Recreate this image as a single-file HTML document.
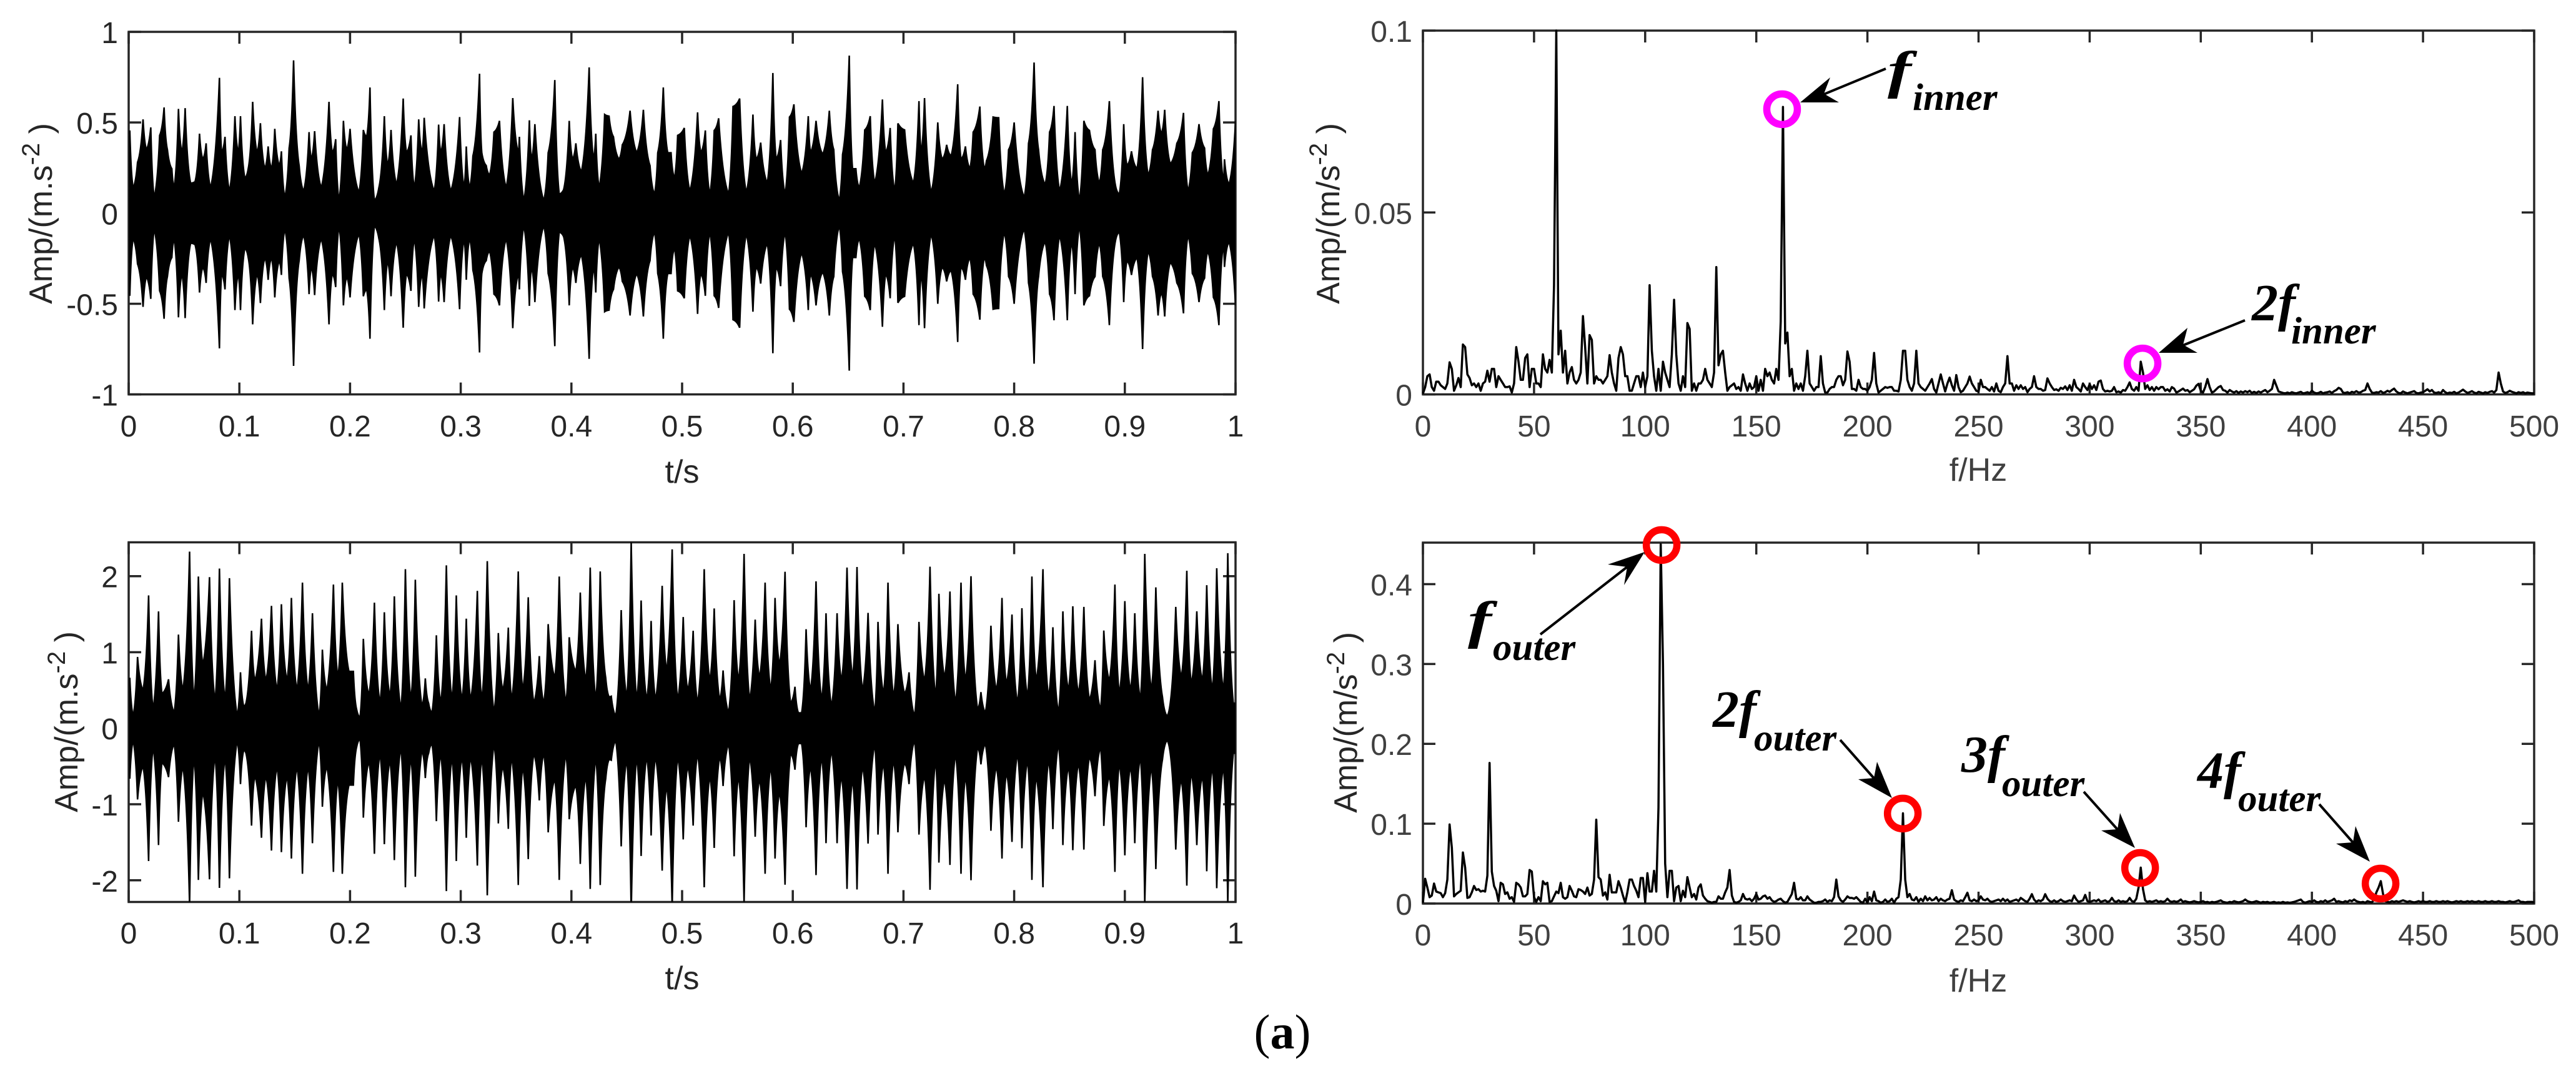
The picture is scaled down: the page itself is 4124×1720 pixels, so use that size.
<!DOCTYPE html>
<html>
<head>
<meta charset="utf-8">
<title>Vibration signals and envelope spectra</title>
<style>
html,body{margin:0;padding:0;background:#fff;}
svg{display:block;}
text{font-family:"Liberation Sans",sans-serif;}
.tick{font-size:48px;}
.axl{font-size:52px;}
.dark{fill:#262626;}
.grey{fill:#404040;}
.ann{font-family:"Liberation Serif",serif;font-style:italic;font-weight:bold;fill:#000;}
.big{font-size:84px;}
.sub{font-size:61px;}
</style>
</head>
<body>
<svg id="fig" xmlns="http://www.w3.org/2000/svg" width="4124" height="1720" viewBox="0 0 4124 1720">
  <rect x="0" y="0" width="4124" height="1720" fill="#fff"/>
  <g id="plots"></g>

  <text class="axl dark" x="1092" y="773" text-anchor="middle">t/s</text>
  <text class="axl dark" x="1092" y="1584" text-anchor="middle">t/s</text>
  <text class="axl grey" x="3167" y="770" text-anchor="middle">f/Hz</text>
  <text class="axl grey" x="3167" y="1588" text-anchor="middle">f/Hz</text>

  <text class="axl dark" transform="translate(83,342) rotate(-90)" text-anchor="middle">Amp/(m.s<tspan dy="-20" font-size="40">-2</tspan><tspan dy="20"> )</tspan></text>
  <text class="axl dark" transform="translate(124,1156) rotate(-90)" text-anchor="middle">Amp/(m.s<tspan dy="-20" font-size="40">-2</tspan><tspan dy="20"> )</tspan></text>
  <text class="axl dark" transform="translate(2144,342) rotate(-90)" text-anchor="middle">Amp/(m/s<tspan dy="-20" font-size="40">-2</tspan><tspan dy="20"> )</tspan></text>
  <text class="axl dark" transform="translate(2172,1157) rotate(-90)" text-anchor="middle">Amp/(m/s<tspan dy="-20" font-size="40">-2</tspan><tspan dy="20"> )</tspan></text>

  <g fill="#000" stroke="none">
    <g><line x1="3019" y1="110" x2="2915" y2="153" stroke="#000" stroke-width="4"/><polygon points="2882,164 2930,124 2920,150 2944,164"/></g>
    <g><line x1="3594" y1="513" x2="3490" y2="555" stroke="#000" stroke-width="4"/><polygon points="3456,565 3502,525 3495,552 3518,565"/></g>
    <g><line x1="2466" y1="1016" x2="2610" y2="904" stroke="#000" stroke-width="4"/><polygon points="2633,884 2574,904 2605,908 2600,937"/></g>
    <g><line x1="2946" y1="1185" x2="3005" y2="1252" stroke="#000" stroke-width="4"/><polygon points="3029,1278 3005,1220 3000,1246 2975,1248"/></g>
    <g><line x1="3336" y1="1268" x2="3395" y2="1334" stroke="#000" stroke-width="4"/><polygon points="3418,1358 3394,1302 3390,1328 3364,1330"/></g>
    <g><line x1="3713" y1="1288" x2="3772" y2="1355" stroke="#000" stroke-width="4"/><polygon points="3794,1380 3771,1323 3767,1349 3740,1351"/></g>
  </g>

  <g><text class="ann big" x="3022" y="140" textLength="38" lengthAdjust="spacingAndGlyphs">f</text><text class="ann sub" x="3062" y="176">inner</text></g>
  <g><text class="ann big" x="3605" y="513">2f</text><text class="ann sub" x="3668" y="550">inner</text></g>
  <g><text class="ann big" x="2350" y="1021" textLength="38" lengthAdjust="spacingAndGlyphs">f</text><text class="ann sub" x="2390" y="1057">outer</text></g>
  <g><text class="ann big" x="2742" y="1164">2f</text><text class="ann sub" x="2808" y="1202">outer</text></g>
  <g><text class="ann big" x="3140" y="1236">3f</text><text class="ann sub" x="3205" y="1275">outer</text></g>
  <g><text class="ann big" x="3518" y="1262">4f</text><text class="ann sub" x="3583" y="1299">outer</text></g>

  <text x="2053" y="1679" text-anchor="middle" style="font-family:'Liberation Serif',serif;font-size:78px;fill:#000;">(<tspan font-weight="bold">a</tspan>)</text>
</svg>
<script>
// ---- tick labels ----
const timeTicks = [0,0.1,0.2,0.3,0.4,0.5,0.6,0.7,0.8,0.9,1];
const freqTicks = [0,50,100,150,200,250,300,350,400,450,500];
const innerTimeYTicks = [-1,-0.5,0,0.5,1];
const outerTimeYTicks = [-2,-1,0,1,2];
const innerFreqYTicks = [0,0.05,0.1];
const outerFreqYTicks = [0,0.1,0.2,0.3,0.4];

// ---- inner race time signal: envelope samples (time in ms, amplitude in 1e-3 m/s^2) ----
const innerTimeMs = [1,4,8,13,16,20,23,28,32,35,39,41,45,48,51,56,60,64,67,70,74,82,84,87,91,96,99,101,105,108,112,116,119,123,126,129,132,136,138,141,145,149,154,158,163,165,168,174,181,184,187,190,194,197,200,208,212,215,218,222,226,231,234,237,242,248,251,255,258,262,265,267,276,280,282,285,291,299,303,305,308,311,317,319,323,326,330,335,341,347,352,353,357,362,364,367,375,379,385,389,393,398,401,404,409,416,420,422,425,430,434,438,443,446,453,459,465,471,475,478,483,487,490,493,496,502,507,514,517,521,525,529,533,542,546,552,558,564,567,571,577,582,585,589,593,597,601,608,614,616,621,627,633,637,642,645,651,654,657,660,665,670,674,681,684,688,692,695,701,709,714,716,719,725,731,735,739,743,749,752,756,760,763,769,773,775,781,786,791,795,800,809,813,818,822,828,832,836,841,848,852,855,859,863,868,873,877,880,886,892,895,899,902,906,911,916,921,925,930,933,936,941,947,953,957,961,967,972,975,980,985,989,990,994,1000];
const innerTimeAmp = [456,139,280,517,350,473,86,429,583,350,245,139,575,333,579,165,174,438,297,385,139,746,333,421,121,535,333,535,192,245,614,333,496,245,368,245,465,262,341,86,359,843,262,121,447,297,452,139,614,333,408,69,509,350,465,113,459,421,693,69,139,535,262,459,157,632,333,429,139,517,333,526,121,488,333,491,121,530,139,368,139,315,769,333,262,209,447,509,139,635,333,421,69,512,297,491,69,333,734,104,130,509,297,385,227,804,297,438,139,544,535,421,297,377,565,333,570,262,104,333,693,333,333,192,429,470,121,556,333,456,104,456,523,104,588,632,113,544,297,389,165,773,297,403,104,530,600,218,535,333,509,324,565,350,69,324,869,245,245,139,459,535,165,627,333,470,121,495,459,165,618,333,635,113,500,297,377,315,711,297,368,245,447,588,245,289,530,526,104,350,500,86,385,831,350,157,447,591,121,591,157,447,69,509,456,350,165,350,618,139,104,491,262,341,245,750,209,350,565,438,570,271,385,553,121,333,491,359,209,465,618,174,297,157,509];

// ---- outer race time signal: envelope samples (time in ms, amplitude in 1e-3 m/s^2) ----
const outerTimeMs = [1,4,8,13,18,22,27,30,36,41,45,49,55,59,63,67,73,78,82,87,91,98,101,104,106,111,114,120,124,129,134,138,143,147,152,157,162,166,172,175,179,185,189,193,199,203,206,209,212,217,222,227,231,236,240,246,250,255,259,265,268,271,274,278,282,287,292,296,301,305,309,315,319,324,330,334,338,343,346,352,356,361,366,371,375,379,385,389,395,398,404,408,413,417,422,426,431,434,436,440,445,450,454,459,463,468,472,476,482,486,491,496,501,505,510,514,520,525,529,534,537,542,547,551,556,561,566,570,575,580,584,588,593,598,602,605,608,612,616,621,626,630,635,640,644,649,654,658,663,668,674,677,682,686,691,695,701,705,710,714,719,724,729,732,737,742,747,752,756,761,767,770,774,779,784,789,793,798,803,807,812,816,820,826,831,835,840,844,849,853,858,863,868,873,878,881,886,891,895,900,905,909,914,918,924,928,934,938,940,946,951,956,960,965,970,974,979,983,989,993,998,1000];
const outerTimeAmp = [664,160,937,496,1747,244,1537,454,643,202,1231,496,2323,370,1995,832,1987,349,2100,370,1974,160,735,286,328,1281,622,1441,622,1609,496,1630,622,1714,496,1915,496,1512,160,1033,496,1890,664,1915,748,748,244,139,1176,433,1651,328,1525,412,1735,244,2092,370,1953,286,655,328,202,1222,328,2142,370,1747,370,1441,370,1806,370,2197,202,1252,496,1323,370,2062,496,1722,328,949,328,1369,664,1995,328,1197,748,1785,622,2113,370,2062,664,412,420,160,1554,400,2449,370,1680,370,1411,370,1873,748,2352,370,1462,496,1281,328,2092,622,1575,370,760,202,1684,622,2293,370,1428,664,1915,496,1714,832,2058,328,546,202,202,1302,496,1932,370,1512,286,1512,622,2113,664,2121,496,1516,202,1399,454,1915,412,1369,454,735,160,1399,622,2125,412,1768,664,1798,328,1915,622,1999,244,475,202,1348,496,1714,580,1495,328,1579,412,1995,622,2092,412,1327,202,1537,496,1604,454,1596,370,895,244,1285,622,1890,454,1672,496,1512,370,2293,496,1852,412,160,235,1596,664,2071,580,1537,622,1882,496,2104,496,2302,328,328];

// ---- inner race spectrum: amplitude (1e-3 m/s^2) per 1 Hz bin, 0..500 Hz ----
const innerSpectrum = [
.2,2,5,5.5,2,1,3.5,3.5,2.5,2,
1.5,3,8.8,7,1,2.5,4.5,2,13.7,13,
5.5,4.5,2.5,3,2,3,1,3,3.5,6.5,
3.5,7,7,2,5,4,3,2,2,2.2,
.5,3,13,9,4,4,10,11,2,7,
7,3,3,2,11,7,6,9.5,6,30,
104,11,17.5,6,12,3,6,7.5,4,3,
4,6,21.5,13,3,16.3,15,3,5,4,
4,3,4,5,10.8,6,3,1,10,13,
11,5,5,1,1,3,5,5,2,6,
2,5,30,12,5,1,7,1,9,6,
4,2,11,26,11,3,1,5,2,19.6,
18,1,3,1,3,3,4,7,4,3,
2,6,35,8,11,12,6,1,2,2.5,
3,1.5,2,1,5.5,3,1,3,1.5,2,
5,1,4,1,7,5,6,4,3,7,
4,20,79,14,17,5,7,1,3,1.5,
3,1,5,12,3,2,1,2,2,10.5,
3,.5,.5,1.5,2,2,4,5,5,2.5,
4,11.8,9,1.5,1.5,1,4,2,1.5,1.5,
1,2,4,11.4,3,.5,1,1.5,2,1.8,
2,2,1,1,.8,4,12,12,4,2,
1,3,12,3,2,1.5,1,2,3,4.2,
1.5,.5,3,5.5,3,.8,3,4.6,2.5,1,
5.3,2,.6,1,2,3,4.9,3,2,1,
.8,4,2,2,1.5,1,2,.8,3,1,
.6,2,3,10.5,3,3,1,2.5,1.5,2.5,
1.5,2,.6,1.5,2,5,2,1.5,1.5,1,
1.2,4.4,3,2,1.2,1.4,1,1.8,1.5,2.2,
1.2,2.5,1,4,2,1.5,.8,3,2,1.2,
2.8,1.5,2.5,1.2,3.5,3.8,1.5,.8,1,.8,
1,2,.6,.8,.5,1.2,1,2,3.3,1.5,
1,2,1,9,6,1.5,2.5,1.2,2,1,
2,1.4,2,2,1,1.4,.8,2,1.6,.5,
.8,1.2,1.6,1,1.2,.6,1,1.4,2.4,2.9,
1,.5,2,4.2,2,.5,.8,1.4,2,2.3,
1.2,1,.5,1.2,.8,.5,.9,.4,.8,.5,
.9,.6,1,.4,.7,.4,.8,.5,.9,1.2,
.6,1,1.5,4,2.4,.8,.6,.4,.3,.5,
.3,.6,.4,.3,.5,.7,.3,.4,.6,.3,
1,.5,.3,.4,.7,.3,.5,.6,.8,.4,
.9,1.2,1.8,1.5,.5,.4,.6,.3,.7,.5,
.9,.5,.6,1,1.2,3,1.5,.5,.4,.6,
.5,.9,.4,.6,1,.7,1.2,1.6,.8,.4,
.3,.8,.5,.3,.5,.7,.9,.4,.3,.5,
.6,1,1.4,.8,1.2,.5,.4,.6,.3,1.2,
.6,.3,.5,.4,.7,.3,.5,.9,1.3,.8,
.4,.6,.9,.5,.3,.7,.5,.3,.6,.4,
.7,.9,.5,1.2,6,3,.8,.4,.6,1,
.7,.5,.3,.6,.4,.6,.3,.5,.4,.3,
.3];

// ---- outer race spectrum: amplitude (1e-3 m/s^2) per 1 Hz bin, 0..500 Hz ----
const outerSpectrum = [
1,31,20,8,10,25,15,14,13,8,
13,30,99,70,9,12,14,16,64,45,
7,8,14,22,17,18,15,16,15,35,
176,40,22,16,3,26,24,12,14,6,
8,2,26,24,20,9,9,12,42,40,
8,2,8,3,28,24,26,2,3,9,
15,13,26,8,6,8,22,16,9,8,
18,17,15,12,20,10,12,30,105,33,
30,10,14,5,36,14,14,14,28,20,
10,1,14,30,30,22,16,8,32,32,
2,38,15,15,41,15,120,450,300,50,
8,41,41,3,20,22,3,16,8,33,
20,8,12,5,20,24,10,6,3,2,
1,2,2,9,6,6,14,20,42,10,
2,1,2,4,12,6,5,6,3,6,
12,5,6,9,10,6,8,4,2,3,
5,6,3,1,2,7,12,26,6,5,
8,4,4,9,5,3,1,1,2,2,
3,5,2,4,3,8,30,9,4,2,
5,9,7,7,6,8,5,2,1,6,
1,8,3,15,4,3,1,2,5,2,
3,6,1,6,8,30,113,30,8,12,
5,4,8,2,6,3,9,4,7,4,
5,8,3,6,4,3,5,6,16.7,5,
3,2,4,3,8,13.5,4,3,5,3,
4,9,5,4,6,3,2,3,4,5,
3,6,3,5,2,3,4,5,3,7,
5,3,2,6,11.7,5,2,4,3,5,
11.7,6,3,2,4,2,3,5,3,2,
3,4,3,10,5,2,3,4,10.8,3,
2,3,4,3,5,2,3,4,2,3,
7,3,2,4,2,3,2,3,7,3,
2,6,20,45,18,4,2,3,2,3,
4,2,3,2,3,6,3,2,3,2,
3,5,2,3,2,1.5,2,3,2,1.5,
2,3,1.5,2,1,2,1.5,2,3,4,
2,1.5,1,2,1.5,3,2,1.5,2,3,
5,3,2,1.5,2,3,2,1,2,1.5,
2,1,1.5,2,1,1.5,1,2,1,1.5,
1,1.5,2,3,4,5,2,1,2,3,
2,4,2,1.5,3,2,4,2,3,4,
6,2,3,2,1.5,3,2,4,3,5,
3,2,1.5,2,1,3,2,1.5,5,14,
20,28,12,3,2,1.5,3,2,3,2,
3,4,3,2,3,2,1.5,2,3,2,
3,2,2,3,2,2,3,2,2,3,
2,3,2,1.5,2,3,2,3,2,2,
3,2,3,2,2,3,2,2,3,2,
2,3,2,2,3,2,2,1.5,2,3,
2,2,3,4,2,2,1.5,2,2,2,
1.5];

// ---- fault-frequency markers ----
const innerMarkerFreq = [161.6,323.8];
const innerMarkerAmp = [0.0784,0.0085];
const outerMarkerFreq = [107.4,215.9,322.7,430.9];
const outerMarkerAmp = [0.449,0.1127,0.0446,0.025];

const NS = 'http://www.w3.org/2000/svg';
const plots = document.getElementById('plots');

function scale(d0, d1, p0, p1) {
  return function (v) { return p0 + (v - d0) * (p1 - p0) / (d1 - d0); };
}

function make(tag, parent) {
  const el = document.createElementNS(NS, tag);
  parent.appendChild(el);
  return el;
}

function drawAxes(p) {
  const g = make('g', plots);
  
  
  const clip = make('clipPath', g);
  clip.setAttribute('id', p.name + '-clip');
  const clipRect = make('rect', clip);
  clipRect.setAttribute('x', p.left);
  clipRect.setAttribute('y', p.top);
  clipRect.setAttribute('width', p.right - p.left);
  clipRect.setAttribute('height', p.bottom - p.top);
  const frame = make('rect', g);
  
  
  frame.setAttribute('x', p.left);
  frame.setAttribute('y', p.top);
  frame.setAttribute('width', p.right - p.left);
  frame.setAttribute('height', p.bottom - p.top);
  frame.setAttribute('fill', 'none');
  frame.setAttribute('stroke', '#262626');
  frame.setAttribute('stroke-width', '3.5');
  const sx = p.sx, sy = p.sy;
  p.xTicks.forEach(function (t) {
    const px = sx(t);
    [[p.top, p.top + 19], [p.bottom, p.bottom - 19]].forEach(function (seg) {
      const l = make('line', g);
      
      
      l.setAttribute('x1', px); l.setAttribute('x2', px);
      l.setAttribute('y1', seg[0]); l.setAttribute('y2', seg[1]);
      l.setAttribute('stroke', '#262626');
      l.setAttribute('stroke-width', '3.5');
    });
    const tx = make('text', g);
    
    
    tx.setAttribute('class', 'tick ' + p.tone);
    tx.setAttribute('x', px);
    tx.setAttribute('y', p.xLabelY);
    tx.setAttribute('text-anchor', 'middle');
    tx.textContent = String(t);
  });
  p.yTicks.forEach(function (t) {
    const py = sy(t);
    [[p.left, p.left + 20], [p.right, p.right - 20]].forEach(function (seg) {
      const l = make('line', g);
      
      
      l.setAttribute('y1', py); l.setAttribute('y2', py);
      l.setAttribute('x1', seg[0]); l.setAttribute('x2', seg[1]);
      l.setAttribute('stroke', '#262626');
      l.setAttribute('stroke-width', '3.5');
    });
    const tx = make('text', g);
    
    
    tx.setAttribute('class', 'tick ' + p.tone);
    tx.setAttribute('x', p.left - 17);
    tx.setAttribute('y', py + 18);
    tx.setAttribute('text-anchor', 'end');
    tx.textContent = String(t);
  });
  return g;
}

// Segment between two envelope samples: slightly concave, so spikes narrow toward their tips.
function segment(x0, y0, a0, x1, y1, a1) {
  const rising = a0 < a1;
  const cx = rising ? x0 + 0.62 * (x1 - x0) : x1 - 0.62 * (x1 - x0);
  const cy = rising ? y0 + 0.2 * (y1 - y0) : y1 + 0.2 * (y0 - y1);
  return 'Q' + cx.toFixed(1) + ' ' + cy.toFixed(1) + ' ' + x1.toFixed(1) + ' ' + y1.toFixed(1);
}

function drawEnvelope(g, p, times, amps, name) {
  const n = times.length;
  let d = 'M' + p.sx(times[0] / 1000).toFixed(1) + ' ' + p.sy(amps[0] / 1000).toFixed(1);
  for (let i = 1; i < n; i++) {
    d += segment(p.sx(times[i - 1] / 1000), p.sy(amps[i - 1] / 1000), amps[i - 1],
                 p.sx(times[i] / 1000), p.sy(amps[i] / 1000), amps[i]);
  }
  d += 'L' + p.sx(times[n - 1] / 1000).toFixed(1) + ' ' + p.sy(-amps[n - 1] / 1000).toFixed(1);
  for (let i = n - 2; i >= 0; i--) {
    d += segment(p.sx(times[i + 1] / 1000), p.sy(-amps[i + 1] / 1000), amps[i + 1],
                 p.sx(times[i] / 1000), p.sy(-amps[i] / 1000), amps[i]);
  }
  d += 'Z';
  const shape = make('path', g);
  
  
  shape.setAttribute('d', d);
  shape.setAttribute('clip-path', 'url(#' + p.name + '-clip)');
  shape.setAttribute('fill', '#000');
  shape.setAttribute('stroke', '#000');
  shape.setAttribute('stroke-width', '2.5');
  shape.setAttribute('stroke-linejoin', 'miter');
}

function drawSpectrum(g, p, values, name) {
  const pts = values.map(function (v, i) {
    return p.sx(i).toFixed(1) + ',' + p.sy(Math.min(v / 1000, p.yMax)).toFixed(1);
  });
  const line = make('polyline', g);
  
  
  line.setAttribute('points', pts.join(' '));
  line.setAttribute('fill', 'none');
  line.setAttribute('stroke', '#000');
  line.setAttribute('stroke-width', '3.5');
  line.setAttribute('stroke-linejoin', 'round');
}

function drawMarkers(g, p, freqs, amps, color, name) {
  freqs.forEach(function (f, i) {
    const c = make('circle', g);
    
    
    c.setAttribute('cx', p.sx(f));
    c.setAttribute('cy', p.sy(amps[i]));
    c.setAttribute('r', '24.5');
    c.setAttribute('fill', 'none');
    c.setAttribute('stroke', color);
    c.setAttribute('stroke-width', '11.5');
  });
}

function panel(o) {
  o.sx = scale(o.xMin, o.xMax, o.left, o.right);
  o.sy = scale(o.yMin, o.yMax, o.bottom, o.top);
  return o;
}

const pTL = panel({name:'inner-time-panel', tone:'dark', left:206, right:1978, top:51, bottom:631.6, xMin:0, xMax:1, yMin:-1, yMax:1, xTicks:timeTicks, yTicks:innerTimeYTicks, xLabelY:699});
const pBL = panel({name:'outer-time-panel', tone:'dark', left:206, right:1978, top:868.5, bottom:1444.5, xMin:0, xMax:1, yMin:-2.285, yMax:2.445, xTicks:timeTicks, yTicks:outerTimeYTicks, xLabelY:1511});
const pTR = panel({name:'inner-spectrum-panel', tone:'grey', left:2278, right:4057, top:49, bottom:631.6, xMin:0, xMax:500, yMin:0, yMax:0.1, xTicks:freqTicks, yTicks:innerFreqYTicks, xLabelY:699});
const pBR = panel({name:'outer-spectrum-panel', tone:'grey', left:2278, right:4057, top:869, bottom:1447, xMin:0, xMax:500, yMin:0, yMax:0.452, xTicks:freqTicks, yTicks:outerFreqYTicks, xLabelY:1514});

const gTL = drawAxes(pTL);
drawEnvelope(gTL, pTL, innerTimeMs, innerTimeAmp, 'inner-time-signal');
const gBL = drawAxes(pBL);
drawEnvelope(gBL, pBL, outerTimeMs, outerTimeAmp, 'outer-time-signal');
const gTR = drawAxes(pTR);
drawSpectrum(gTR, pTR, innerSpectrum, 'inner-spectrum-line');
drawMarkers(gTR, pTR, innerMarkerFreq, innerMarkerAmp, '#ff00ff', 'inner-fault-marker');
const gBR = drawAxes(pBR);
drawSpectrum(gBR, pBR, outerSpectrum, 'outer-spectrum-line');
drawMarkers(gBR, pBR, outerMarkerFreq, outerMarkerAmp, '#ff0000', 'outer-fault-marker');
</script>
</body>
</html>
